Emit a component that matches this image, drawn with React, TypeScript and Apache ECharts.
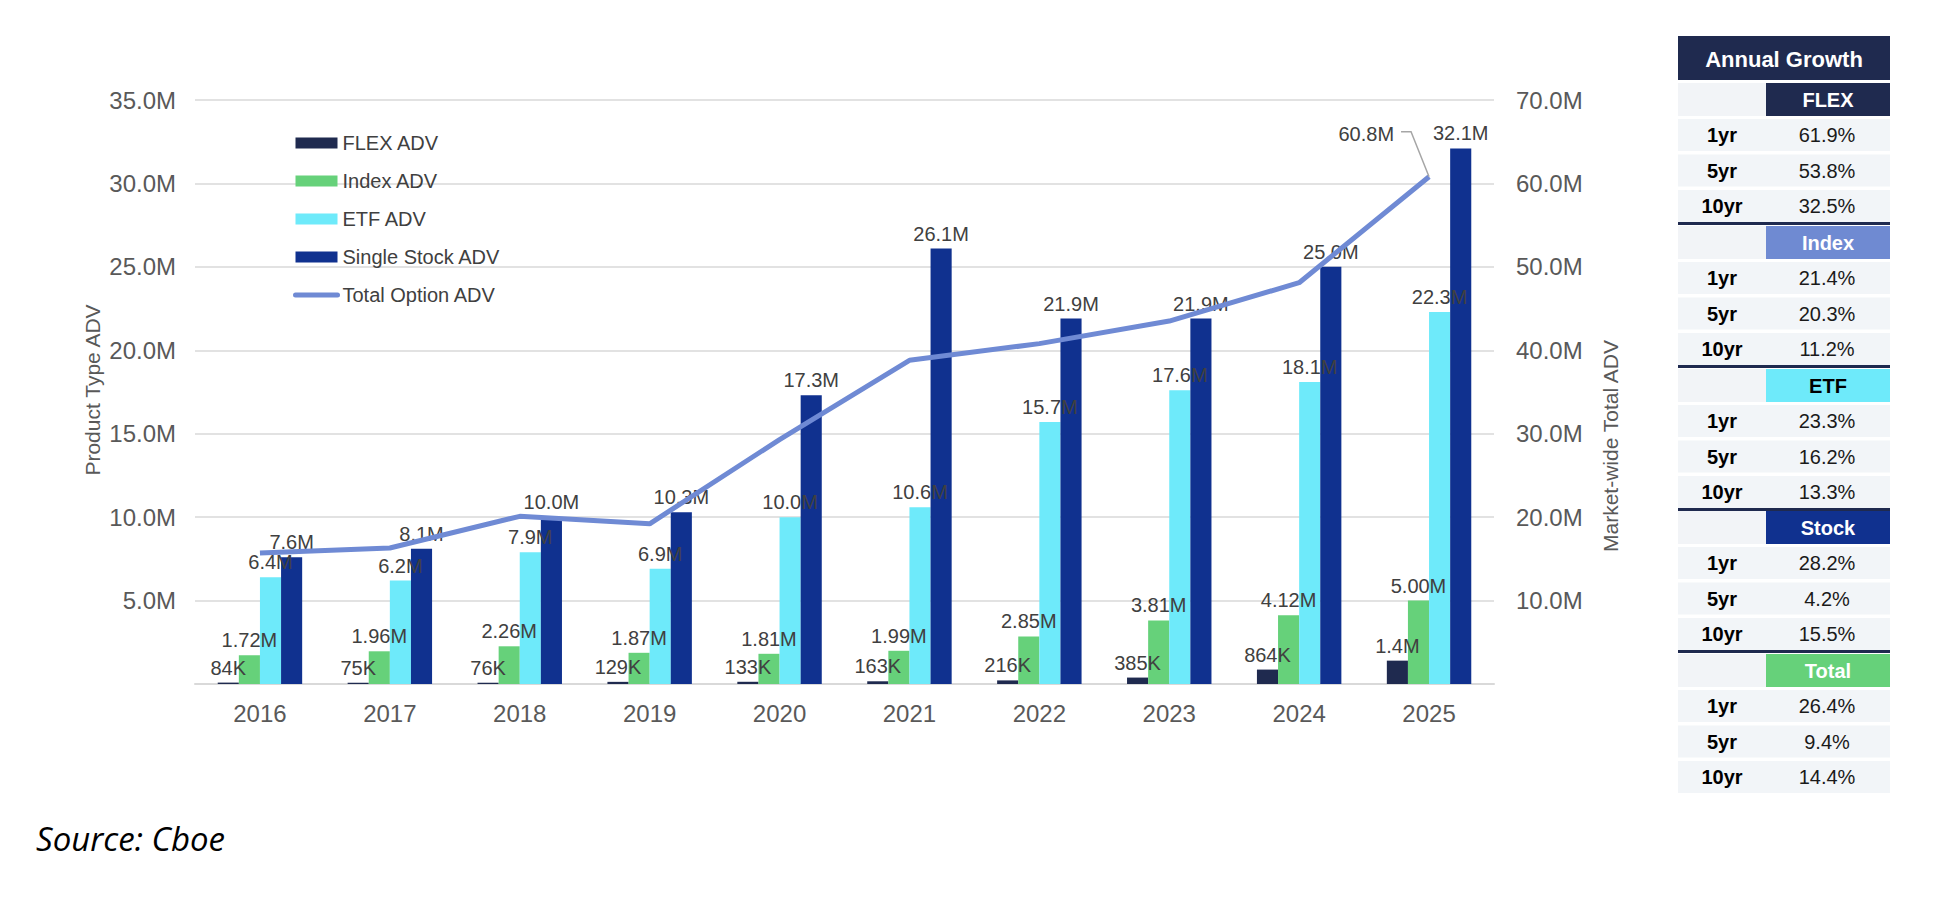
import React, { useEffect, useRef } from "react";
import * as echarts from "echarts";

const years = ["2016", "2017", "2018", "2019", "2020", "2021", "2022", "2023", "2024", "2025"];
// values in millions
const flexAdv = [0.084, 0.075, 0.076, 0.129, 0.133, 0.163, 0.216, 0.385, 0.864, 1.4];
const indexAdv = [1.72, 1.96, 2.26, 1.87, 1.81, 1.99, 2.85, 3.81, 4.12, 5.0];
const etfAdv = [6.4, 6.2, 7.9, 6.9, 10.0, 10.6, 15.7, 17.6, 18.1, 22.3];
const stockAdv = [7.6, 8.1, 10.0, 10.3, 17.3, 26.1, 21.9, 21.9, 25.0, 32.1];
const totalAdv = [15.7, 16.3, 20.1, 19.2, 29.3, 38.8, 40.8, 43.5, 48.1, 60.8];

const seriesNames = ["FLEX ADV", "Index ADV", "ETF ADV", "Single Stock ADV", "Total Option ADV"];

const growthSections = ["FLEX", "Index", "ETF", "Stock", "Total"];
const growthPeriods = ["1yr", "5yr", "10yr"];
const flexGrowth = ["61.9%", "53.8%", "32.5%"];
const indexGrowth = ["21.4%", "20.3%", "11.2%"];
const etfGrowth = ["23.3%", "16.2%", "13.3%"];
const stockGrowth = ["28.2%", "4.2%", "15.5%"];
const totalGrowth = ["26.4%", "9.4%", "14.4%"];
const growthValues = [flexGrowth, indexGrowth, etfGrowth, stockGrowth, totalGrowth];

const C_FLEX = "#1F2A4F";
const C_INDEX = "#66D17A";
const C_ETF = "#6EEAFA";
const C_STOCK = "#10318F";
const C_TOTAL = "#6F8AD4";
const sectionFill = [C_FLEX, "#6F8AD2", C_ETF, C_STOCK, C_INDEX];
const sectionText = ["#FFFFFF", "#FFFFFF", "#000000", "#FFFFFF", "#FFFFFF"];

const FONT = "'Liberation Sans', Arial, sans-serif";

const fmtM1 = (v: number) => v.toFixed(1) + "M";
const fmtM2 = (v: number) => v.toFixed(2) + "M";
const fmtFlex = (v: number) => (v < 1 ? Math.round(v * 1000) + "K" : v.toFixed(1) + "M");

function barSeries(name: string, data: number[], color: string, fmt: (v: number) => string) {
  return {
    name,
    type: "bar",
    data,
    barGap: "0%",
    barCategoryGap: "35%",
    itemStyle: { color },
    label: {
      show: true,
      position: "top",
      distance: 5,
      color: "#404040",
      fontSize: 20,
      fontFamily: FONT,
      formatter: (p: any) => fmt(p.value),
    },
  };
}

function tableGraphics(): any[] {
  const g: any[] = [];
  const x0 = 1678;
  const x1 = 1890;
  const xm = 1766;
  g.push({ type: "rect", shape: { x: x0, y: 36, width: x1 - x0, height: 44 }, style: { fill: C_FLEX } });
  g.push({
    type: "text",
    x: (x0 + x1) / 2,
    y: 59,
    style: { text: "Annual Growth", fill: "#FFFFFF", font: `bold 22px ${FONT}`, align: "center", verticalAlign: "middle" },
  });
  growthSections.forEach((sec, k) => {
    const S = 83 + Math.round(142.75 * k);
    g.push({ type: "rect", shape: { x: x0, y: S, width: xm - x0, height: 33 }, style: { fill: "#F2F4F7" } });
    g.push({ type: "rect", shape: { x: xm, y: S, width: x1 - xm, height: 33 }, style: { fill: sectionFill[k] } });
    g.push({
      type: "text",
      x: (xm + x1) / 2,
      y: S + 17,
      style: { text: sec, fill: sectionText[k], font: `bold 20px ${FONT}`, align: "center", verticalAlign: "middle" },
    });
    growthPeriods.forEach((per, i) => {
      const top = S + 36 + i * 35.5;
      g.push({ type: "rect", shape: { x: x0, y: top, width: x1 - x0, height: 32 }, style: { fill: "#F2F5F8" } });
      g.push({
        type: "text",
        x: (x0 + xm) / 2,
        y: top + 16,
        style: { text: per, fill: "#000000", font: `bold 20px ${FONT}`, align: "center", verticalAlign: "middle" },
      });
      g.push({
        type: "text",
        x: (xm + x1) / 2 - 1,
        y: top + 16,
        style: { text: growthValues[k][i], fill: "#1A1A1A", font: `20px ${FONT}`, align: "center", verticalAlign: "middle" },
      });
    });
    if (k < growthSections.length - 1) {
      g.push({ type: "rect", shape: { x: x0, y: S + 139, width: x1 - x0, height: 3 }, style: { fill: C_FLEX } });
    }
  });
  return g;
}

function baseGraphics(): any[] {
  return [
    {
      type: "text",
      x: 92,
      y: 390,
      rotation: Math.PI / 2,
      style: { text: "Product Type ADV", fill: "#595959", font: `21px ${FONT}`, align: "center", verticalAlign: "middle" },
    },
    {
      type: "text",
      x: 1610,
      y: 446,
      rotation: Math.PI / 2,
      style: { text: "Market-wide Total ADV", fill: "#595959", font: `21px ${FONT}`, align: "center", verticalAlign: "middle" },
    },
    {
      type: "text",
      x: 36,
      y: 838,
      style: {
        text: "Source: Cboe",
        fill: "#000000",
        font: `italic 33px 'Open Sans', sans-serif`,
        align: "left",
        verticalAlign: "middle",
      },
    },
    ...tableGraphics(),
  ];
}

export default function App() {
  const ref = useRef<HTMLDivElement>(null);
  useEffect(() => {
    document.body.style.margin = "0";
    if (!ref.current) return;
    const chart = echarts.init(ref.current, undefined, { renderer: "svg" });
    const option: any = {
      animation: false,
      backgroundColor: "#FFFFFF",
      textStyle: { fontFamily: FONT },
      grid: { left: 195, right: 466, top: 100, bottom: 214, containLabel: false },
      legend: {
        orient: "vertical",
        left: 288,
        top: 128,
        itemWidth: 42,
        itemHeight: 11,
        itemGap: 18,
        textStyle: { color: "#404040", fontSize: 20, fontFamily: FONT, lineHeight: 20 },
        data: [
          { name: seriesNames[0], icon: "rect" },
          { name: seriesNames[1], icon: "rect" },
          { name: seriesNames[2], icon: "rect" },
          { name: seriesNames[3], icon: "rect" },
          { name: seriesNames[4], itemStyle: { opacity: 0 }, lineStyle: { width: 5, color: C_TOTAL, cap: "round" } },
        ],
      },
      xAxis: {
        type: "category",
        data: years,
        axisLine: { show: true, lineStyle: { color: "#D9D9D9", width: 2 } },
        axisTick: { show: false },
        axisLabel: { color: "#595959", fontSize: 24, fontFamily: FONT, margin: 17 },
      },
      yAxis: [
        {
          type: "value",
          min: 0,
          max: 35,
          interval: 5,
          position: "left",
          axisLine: { show: false },
          axisTick: { show: false },
          axisLabel: {
            color: "#595959",
            fontSize: 24,
            fontFamily: FONT,
            margin: 19,
            formatter: (v: number) => (v === 0 ? "" : fmtM1(v)),
          },
          splitLine: { show: true, lineStyle: { color: "#D9D9D9", width: 1.5 } },
        },
        {
          type: "value",
          min: 0,
          max: 70,
          interval: 10,
          position: "right",
          axisLine: { show: false },
          axisTick: { show: false },
          axisLabel: {
            color: "#595959",
            fontSize: 24,
            fontFamily: FONT,
            margin: 22,
            formatter: (v: number) => (v === 0 ? "" : fmtM1(v)),
          },
          splitLine: { show: false },
        },
      ],
      series: [
        barSeries(seriesNames[0], flexAdv, C_FLEX, fmtFlex),
        barSeries(seriesNames[1], indexAdv, C_INDEX, fmtM2),
        barSeries(seriesNames[2], etfAdv, C_ETF, fmtM1),
        barSeries(seriesNames[3], stockAdv, C_STOCK, fmtM1),
        {
          name: seriesNames[4],
          type: "line",
          yAxisIndex: 1,
          data: totalAdv,
          symbol: "none",
          z: 3,
          lineStyle: { color: C_TOTAL, width: 5 },
          itemStyle: { color: C_TOTAL },
        },
      ],
      graphic: baseGraphics(),
    };
    chart.setOption(option);
    const last = totalAdv.length - 1;
    const p = chart.convertToPixel({ xAxisIndex: 0, yAxisIndex: 1 } as any, [years[last], totalAdv[last]]) as number[];
    if (p && p.length === 2) {
      const extra = [
        {
          type: "polyline",
          shape: { points: [[p[0] - 28, p[1] - 45], [p[0] - 18, p[1] - 45], [p[0], p[1]]] },
          style: { stroke: "#A6A6A6", lineWidth: 1.5, fill: null },
          z: 10,
        },
        {
          type: "text",
          x: p[0] - 35,
          y: p[1] - 43,
          style: {
            text: fmtM1(totalAdv[last]),
            fill: "#404040",
            font: `20px ${FONT}`,
            align: "right",
            verticalAlign: "middle",
          },
          z: 10,
        },
      ];
      chart.setOption({ graphic: [...baseGraphics(), ...extra] });
    }
    return () => chart.dispose();
  }, []);
  return <div ref={ref} style={{ width: 1960, height: 898 }} />;
}
